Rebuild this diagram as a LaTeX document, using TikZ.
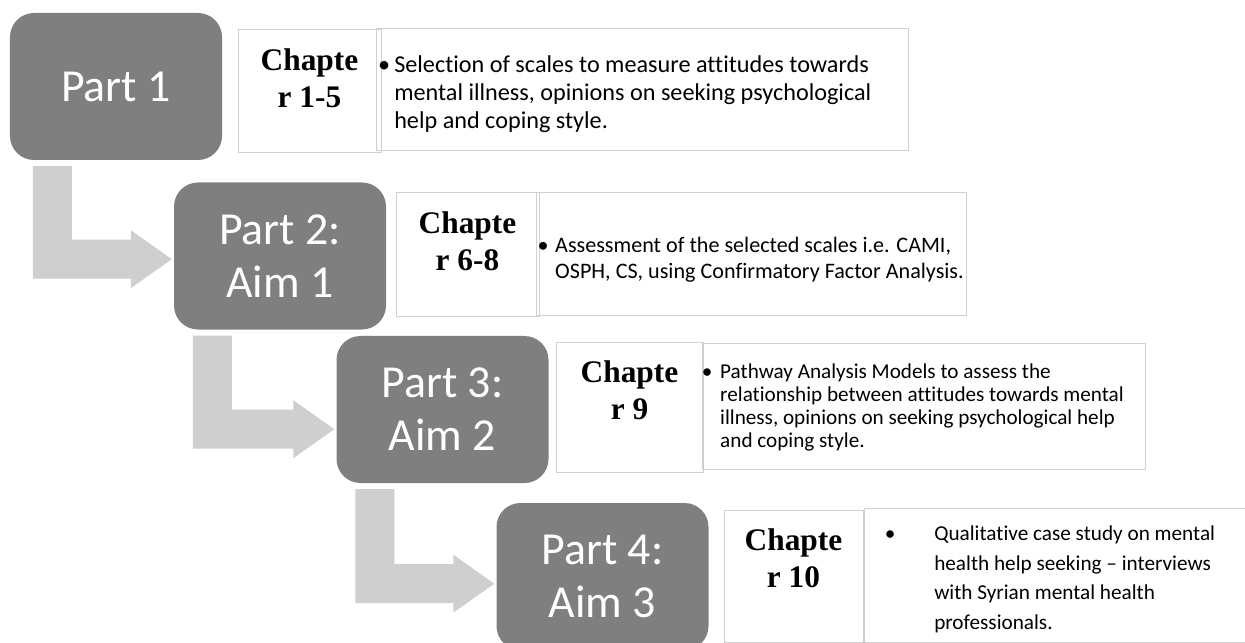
\documentclass[tikz,border=0pt]{standalone}
\usepackage{fontspec}
\setmainfont{Carlito}[Ligatures=NoCommon]
\newfontfamily\chapfont{Liberation Serif}
\usetikzlibrary{calc}

\definecolor{partgrey}{HTML}{7F7F7F}
\definecolor{arrowgrey}{HTML}{CFCFCF}
\definecolor{framegrey}{HTML}{D0D0D0}

% Bent block arrow from under one part box to the left side of the next one.
% #1 source node, #2 target node, #3 bar offset from the source's west side,
% #4 drop of the bar centre below the source's bottom edge
\newcommand\stagearrow[4]{%
  \fill[bentarrow] let \p1=(#1.south west), \p2=(#2.west) in
    (\x1+#3, \y1-6bp) -- (\x1+#3+39bp, \y1-6bp)
    -- (\x1+#3+39bp, \y1-#4+19.5bp) -- (\x2-43bp, \y1-#4+19.5bp)
    -- (\x2-43bp, \y1-#4+29bp) -- (\x2-2bp, \y1-#4)
    -- (\x2-43bp, \y1-#4-29bp) -- (\x2-43bp, \y1-#4-19.5bp)
    -- (\x1+#3, \y1-#4-19.5bp) -- cycle;}

\begin{document}
\begin{tikzpicture}[x=1bp,y=-1bp,
  partbox/.style={fill=partgrey, rounded corners=24bp, minimum width=212bp,
    minimum height=147bp, inner sep=0pt, text=white, align=center,
    font=\fontsize{46}{53}\selectfont},
  framebox/.style={draw=framegrey, line width=1bp, inner sep=0pt},
  chaptext/.style={font=\chapfont\bfseries\fontsize{31.5}{37.5}\selectfont,
    align=center, inner sep=0pt, anchor=north},
  desctext/.style={inner sep=0pt, anchor=west},
  bentarrow/.style={fill=arrowgrey}
]
\useasboundingbox (0,0) rectangle (1245,643);

% part boxes
\node[partbox] (p1) at (116,86.5) {Part 1};
\node[partbox] (p2) at (280,256) {Part 2:\\Aim 1};
\node[partbox] (p3) at (442.5,409.5) {Part 3:\\Aim 2};
\node[partbox] (p4) at (602.5,576.5) {Part 4:\\Aim 3};

% arrows between parts
\stagearrow{p1}{p2}{23bp}{99bp}
\stagearrow{p2}{p3}{19bp}{99.5bp}
\stagearrow{p3}{p4}{19bp}{100.5bp}

% chapter boxes
\node[framebox, minimum width=143bp, minimum height=123bp] (c1) at (309.5,91.5) {};
\node[chaptext] (c1t) at ([yshift=-19bp]c1.north) {Chapte\\r 1-5};
\node[framebox, minimum width=143bp, minimum height=123bp] (c2) at (467.5,254.5) {};
\node[chaptext] (c2t) at ([yshift=-19bp]c2.north) {Chapte\\r 6-8};
\node[framebox, minimum width=147bp, minimum height=129bp] (c3) at (629.5,407.5) {};
\node[chaptext] (c3t) at ([yshift=-18bp]c3.north) {Chapte\\r 9};
\node[framebox, minimum width=139bp, minimum height=132bp] (c4) at (793.5,576) {};
\node[chaptext] (c4t) at ([yshift=-19bp]c4.north) {Chapte\\r 10};

% description boxes
\node[framebox, minimum width=532bp, minimum height=122bp] (d1) at (642,90) {};
\node[desctext, font=\fontsize{24.3}{28.5}\selectfont] (d1t) at (378,94.8)
  {\begin{tabular}{@{}l@{\hspace{4bp}}l@{}}
   \textbullet & Selection of scales to measure attitudes towards\\
   & mental illness, opinions on seeking psychological\\
   & help and coping style.
  \end{tabular}};

\node[framebox, minimum width=430bp, minimum height=122bp] (d2) at (751,254) {};
\node[desctext, font=\fontsize{22.2}{27}\selectfont] (d2t) at (537.5,260.1)
  {\begin{tabular}{@{}l@{\hspace{6.5bp}}l@{}}
   \textbullet & Assessment of the selected scales i.e. CAMI,\\
   & OSPH, CS, using Confirmatory Factor Analysis.
  \end{tabular}};

\node[framebox, minimum width=443bp, minimum height=125bp] (d3) at (923.5,406.5) {};
\node[desctext, font=\fontsize{21.25}{23.3}\selectfont] (d3t) at (701.75,408.3)
  {\begin{tabular}{@{}l@{\hspace{7.75bp}}l@{}}
   \textbullet & Pathway Analysis Models to assess the\\
   & relationship between attitudes towards mental\\
   & illness, opinions on seeking psychological help\\
   & and coping style.
  \end{tabular}};

\node[framebox, minimum width=398bp, minimum height=134bp] (d4) at (1063,575) {};
\node[desctext, font=\fontsize{21.3}{30}\selectfont] (d4t) at (884.75,579)
  {\begin{tabular}{@{}l@{\hspace{38.75bp}}l@{}}
   \textbullet & Qualitative case study on mental\\
   & health help seeking – interviews\\
   & with Syrian mental health\\
   & professionals.
  \end{tabular}};
\end{tikzpicture}
\end{document}
